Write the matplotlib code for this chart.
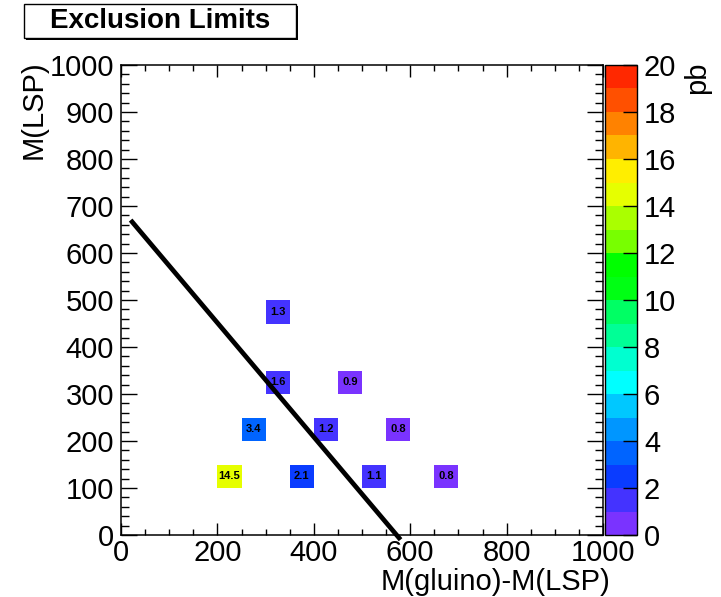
import matplotlib
matplotlib.use("Agg")
import matplotlib.pyplot as plt
import numpy as np
from matplotlib.colors import ListedColormap, BoundaryNorm
from matplotlib.patches import Rectangle

plt.rcParams["font.family"] = ["Liberation Sans", "DejaVu Sans"]

# cross-section limits (pb) at each bin centre
mass_diff = [225, 375, 525, 675, 275, 425, 575, 325, 475, 325]
mass_lsp = [125, 125, 125, 125, 225, 225, 225, 325, 325, 475]
xsec_pb = [14.5, 2.1, 1.1, 0.8, 3.4, 1.2, 0.8, 1.6, 0.9, 1.3]

# exclusion line end points
line_x = [20, 580]
line_y = [670, -10]

# 20-level rainbow palette, 1 pb per level
palette = [
    "#7a33ff", "#4433ff", "#0a3cff", "#0064ff", "#0096ff",
    "#00c8ff", "#00ffff", "#00ffd0", "#00ff96", "#00ff64",
    "#00ff14", "#00ff00", "#78ff00", "#aaff00", "#e6ff00",
    "#ffee00", "#ffb400", "#ff8200", "#ff5000", "#ff2800",
]
cmap = ListedColormap(palette)
levels = np.arange(0, 21, 1)
norm = BoundaryNorm(levels, cmap.N)

W, H = 721, 597
fig = plt.figure(figsize=(W / 100, H / 100), dpi=100)

ax_l, ax_r, ax_t, ax_b = 121, 603, 65, 535
ax = fig.add_axes([ax_l / W, 1 - ax_b / H, (ax_r - ax_l) / W, (ax_b - ax_t) / H])

edges = np.arange(0, 1001, 50)
hist, xe, ye = np.histogram2d(mass_diff, mass_lsp, bins=[edges, edges], weights=xsec_pb)
hist = np.ma.masked_equal(hist.T, 0)
mesh = ax.pcolormesh(xe, ye, hist, cmap=cmap, norm=norm)

for x, y, v in zip(mass_diff, mass_lsp, xsec_pb):
    ax.text(x, y, f"{v:.1f}", ha="center", va="center", fontsize=8,
            fontweight="bold", color="black")

ax.plot(line_x, line_y, color="black", lw=3.4, clip_on=False,
        solid_capstyle="butt")

ax.set_xlim(0, 1000)
ax.set_ylim(0, 1000)
ax.set_xticks(np.arange(0, 1001, 200))
ax.set_xticks(np.arange(0, 1001, 50), minor=True)
ax.set_yticks(np.arange(0, 1001, 100))
ax.set_yticks(np.arange(0, 1001, 20), minor=True)
ax.tick_params(axis="both", which="both", direction="in", top=True, right=True,
               width=1.0, labelsize=21)
ax.tick_params(axis="x", which="major", length=8.6, pad=3)
ax.tick_params(axis="x", which="minor", length=4.3)
ax.tick_params(axis="y", which="major", length=11.5, pad=5)
ax.tick_params(axis="y", which="minor", length=6.1)
for s in ax.spines.values():
    s.set_linewidth(1.1)

# colour scale
cax = fig.add_axes([605 / W, 1 - ax_b / H, 32 / W, (ax_b - ax_t) / H])
cb = fig.colorbar(mesh, cax=cax, ticks=np.arange(0, 21, 2))
cb.outline.set_linewidth(1.0)
cax.tick_params(direction="in", length=10, width=1.0, labelsize=21, pad=5)
cax.minorticks_off()

fig.text(34 / W, 1 - 60 / H, "M(LSP)", rotation=90, ha="center", va="top",
         fontsize=21)
fig.text(610 / W, 1 - 582 / H, "M(gluino)-M(LSP)", ha="right", va="center",
         fontsize=21)
fig.text(697 / W, 1 - 62 / H, "pb", rotation=90, ha="center", va="top",
         fontsize=21)

# title pave with drop shadow
bx0, bx1, by0, by1 = 24, 296, 4, 38
shadow = Rectangle(((bx0 + 2) / W, 1 - (by1 + 2) / H), (bx1 - bx0) / W,
                   (by1 - by0) / H, transform=fig.transFigure,
                   facecolor="black", edgecolor="none")
box = Rectangle((bx0 / W, 1 - by1 / H), (bx1 - bx0) / W, (by1 - by0) / H,
                transform=fig.transFigure, facecolor="white",
                edgecolor="black", lw=1.0)
fig.patches.extend([shadow, box])
fig.text((bx0 + bx1) / 2 / W, 1 - (by0 + by1) / 2 / H, "Exclusion Limits",
         ha="center", va="center", fontsize=20, fontweight="bold")

fig.savefig("out.png", dpi=100)
